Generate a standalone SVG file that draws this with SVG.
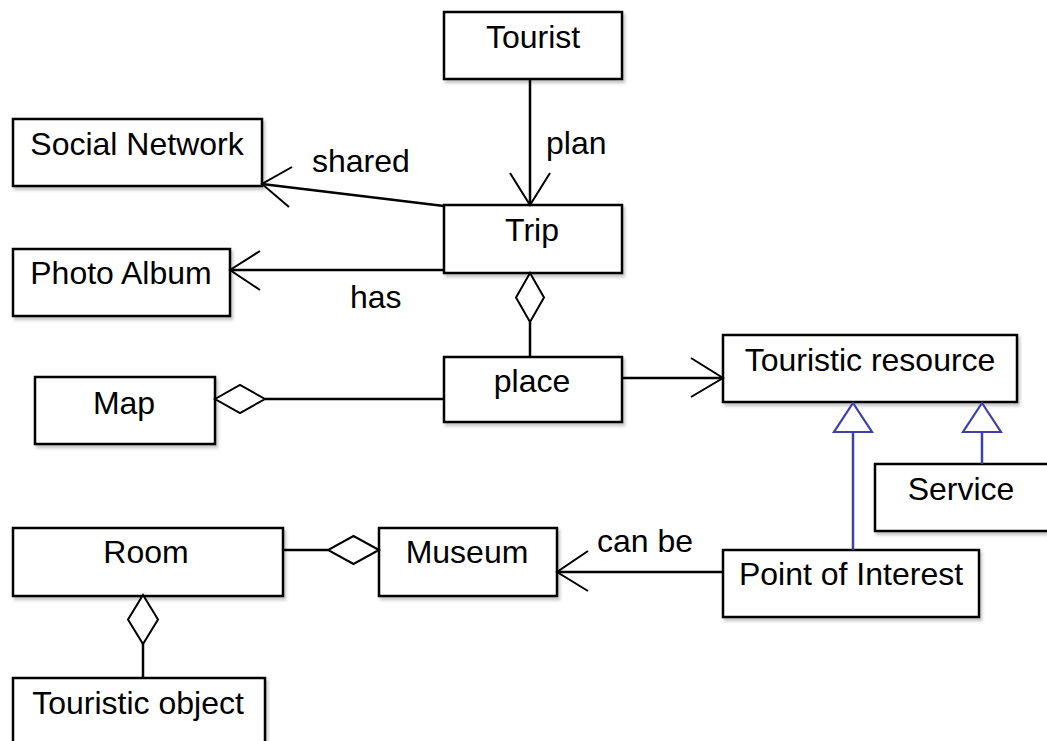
<svg xmlns="http://www.w3.org/2000/svg" width="1047" height="741" viewBox="0 0 1047 741">
  <defs>
    <filter id="shadow" x="-5%" y="-5%" width="115%" height="130%">
      <feDropShadow dx="2" dy="3" stdDeviation="1.8" flood-color="#000" flood-opacity="0.22"/>
    </filter>
  </defs>
  <style>
    .box { fill: #fff; stroke: #000; stroke-width: 2.5; filter: url(#shadow); }
    .name { font-family: "Liberation Sans", Arial, sans-serif; font-size: 32px; fill: #000; text-anchor: middle; }
    .label { font-family: "Liberation Sans", Arial, sans-serif; font-size: 32px; fill: #000; }
    .line { fill: none; stroke: #000; stroke-width: 2.5; }
    .head { fill: none; stroke: #000; stroke-width: 2; }
    .diamond { fill: #fff; stroke: #000; stroke-width: 2; }
    .gen { fill: none; stroke: #3f3fa6; stroke-width: 2.5; }
    .tri { fill: #fff; stroke: #3f3fa6; stroke-width: 2.2; }
  </style>
  <rect width="1047" height="741" fill="#fff"/>

  <!-- classes -->
  <g id="tourist"><rect class="box" x="444" y="12" width="178" height="67"/><text class="name" x="533" y="48">Tourist</text></g>
  <g id="social-network"><rect class="box" x="13" y="119" width="249" height="67"/><text class="name" x="137" y="155">Social Network</text></g>
  <g id="trip"><rect class="box" x="444" y="205" width="178" height="68"/><text class="name" x="532" y="241">Trip</text></g>
  <g id="photo-album"><rect class="box" x="13" y="249" width="217" height="67"/><text class="name" x="121" y="284">Photo Album</text></g>
  <g id="map"><rect class="box" x="35" y="377" width="180" height="67"/><text class="name" x="124" y="414">Map</text></g>
  <g id="place"><rect class="box" x="444" y="357" width="178" height="65"/><text class="name" x="532" y="392">place</text></g>
  <g id="touristic-resource"><rect class="box" x="723" y="335" width="294" height="67"/><text class="name" x="870" y="371">Touristic resource</text></g>
  <g id="service"><rect class="box" x="875" y="464" width="180" height="67"/><text class="name" x="961" y="500">Service</text></g>
  <g id="point-of-interest"><rect class="box" x="723" y="550" width="256" height="67"/><text class="name" x="851" y="585">Point of Interest</text></g>
  <g id="museum"><rect class="box" x="379" y="528" width="178" height="68"/><text class="name" x="467" y="563">Museum</text></g>
  <g id="room"><rect class="box" x="13" y="528" width="270" height="68"/><text class="name" x="146" y="563">Room</text></g>
  <g id="touristic-object"><rect class="box" x="13" y="678" width="252" height="70"/><text class="name" x="138" y="714">Touristic object</text></g>

  <!-- associations, aggregations and generalizations -->
  <g id="connectors">
    <!-- Tourist plan Trip -->
    <path class="line" d="M530 79 V205"/>
    <path class="head" d="M510 173 L530 205 L550 173"/>
    <text class="label" x="546" y="154">plan</text>

    <!-- Trip shared Social Network -->
    <path class="line" d="M444 206 L262 184"/>
    <path class="head" d="M292 167 L262 184 L289 207"/>
    <text class="label" x="312" y="172">shared</text>

    <!-- Trip has Photo Album -->
    <path class="line" d="M444 270 H230"/>
    <path class="head" d="M260 251 L230 270 L260 290"/>
    <text class="label" x="350" y="308">has</text>

    <!-- Trip aggregates place -->
    <path class="line" d="M530 322 V357"/>
    <path class="diamond" d="M530 273 L544 297.5 L530 322 L516 297.5 Z"/>

    <!-- Map aggregates place -->
    <path class="line" d="M265 399 H444"/>
    <path class="diamond" d="M215 399 L240 385 L265 399 L240 413 Z"/>

    <!-- place to Touristic resource -->
    <path class="line" d="M622 378 H723"/>
    <path class="head" d="M691 358 L723 378 L691 397"/>

    <!-- Point of Interest can be Museum -->
    <path class="line" d="M723 572 H557"/>
    <path class="head" d="M588 551 L557 572 L588 591"/>
    <text class="label" x="597" y="552">can be</text>

    <!-- Museum aggregates Room -->
    <path class="line" d="M283 550 H328"/>
    <path class="diamond" d="M379 550 L353.5 536 L328 550 L353.5 564 Z"/>

    <!-- Room aggregates Touristic object -->
    <path class="line" d="M143 644 V678"/>
    <path class="diamond" d="M143 595 L158 619.5 L143 644 L128 619.5 Z"/>

    <!-- Point of Interest is a Touristic resource -->
    <path class="gen" d="M853 550 V432"/>
    <path class="tri" d="M853 403 L872 432 L834 432 Z"/>

    <!-- Service is a Touristic resource -->
    <path class="gen" d="M982 464 V432"/>
    <path class="tri" d="M982 403 L1001 432 L963 432 Z"/>
  </g>
</svg>
